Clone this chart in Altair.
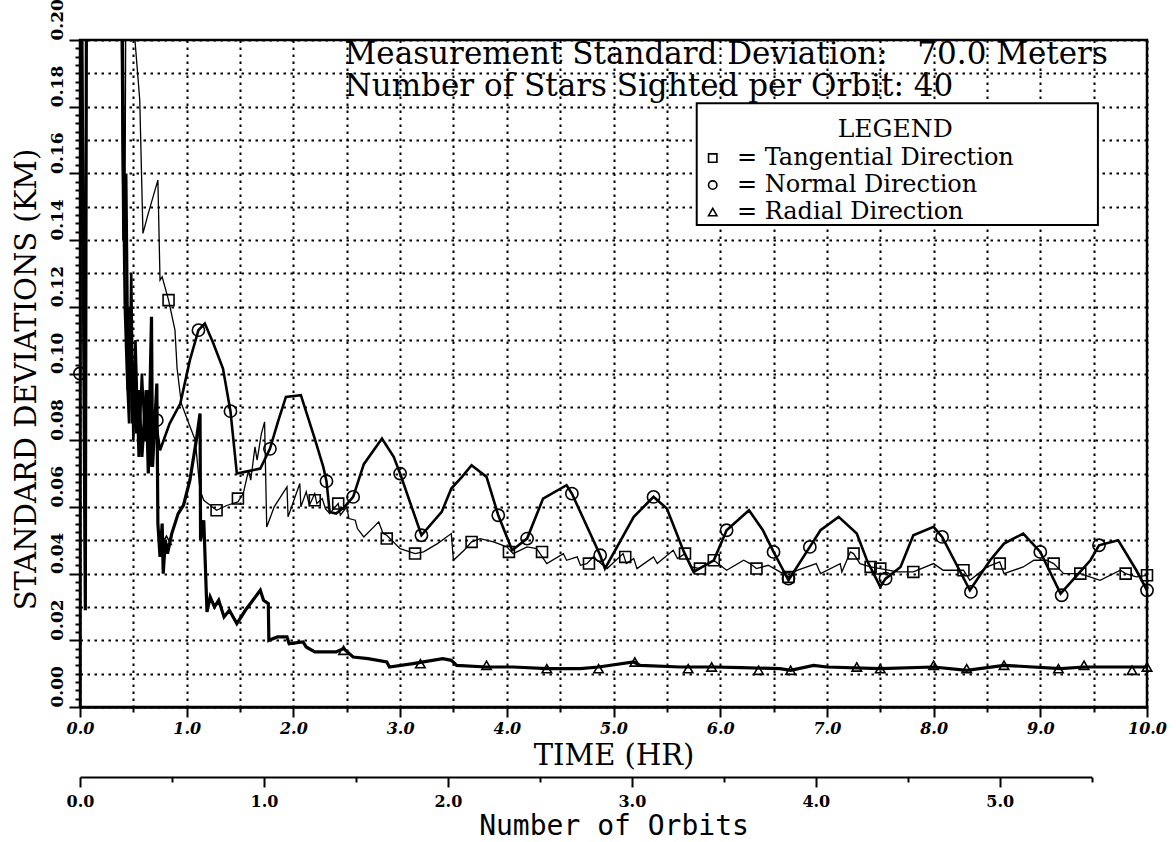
import altair as alt
import pandas as pd

# Position-error standard deviations (km) versus time since epoch (hr)
T_MAX = 10.0
V_MAX = 0.20
ORBIT_PERIOD_HR = 1.724
ORBIT_AXIS_END = 5.5
W, H = 1067, 667
SERIF = "DejaVu Serif"

tangential = [
    (0.00, 0.30), (0.045, 0.032), (0.06, 0.30), (0.39, 0.30), (0.42, 0.133), (0.44, 0.30),
    (0.50, 0.30), (0.515, 0.20), (0.56, 0.182), (0.59, 0.142), (0.64, 0.148), (0.73, 0.158),
    (0.75, 0.128), (0.77, 0.129), (0.83, 0.122), (0.89, 0.113), (0.91, 0.1015), (0.95, 0.091),
    (1.02, 0.085), (1.08, 0.080), (1.125, 0.065), (1.16, 0.062), (1.22, 0.0605), (1.28, 0.059),
    (1.38, 0.0605), (1.48, 0.0615), (1.53, 0.064), (1.58, 0.071), (1.60, 0.068), (1.64, 0.078),
    (1.66, 0.074), (1.70, 0.082), (1.73, 0.0855), (1.75, 0.054), (1.82, 0.060), (1.94, 0.066),
    (1.95, 0.057), (2.06, 0.067), (2.07, 0.060), (2.12, 0.0645), (2.15, 0.0605), (2.20, 0.064),
    (2.22, 0.061), (2.27, 0.0625), (2.30, 0.0595), (2.34, 0.058), (2.42, 0.061), (2.44, 0.0575),
    (2.50, 0.060), (2.52, 0.0565), (2.58, 0.056), (2.60, 0.0535), (2.66, 0.051), (2.80, 0.0555),
    (2.84, 0.052), (2.875, 0.0515), (3.00, 0.0475), (3.14, 0.046), (3.22, 0.0465), (3.35, 0.049),
    (3.48, 0.052), (3.50, 0.044), (3.60, 0.047), (3.67, 0.0495), (3.75, 0.0505), (3.875, 0.0495),
    (4.00, 0.048), (4.06, 0.046), (4.19, 0.048), (4.28, 0.0475), (4.375, 0.043), (4.53, 0.046),
    (4.56, 0.044), (4.66, 0.045), (4.69, 0.0425), (4.75, 0.043), (4.81, 0.045), (4.94, 0.0415),
    (5.09, 0.046), (5.12, 0.043), (5.19, 0.0445), (5.22, 0.0415), (5.375, 0.045), (5.41, 0.043),
    (5.56, 0.047), (5.60, 0.0445), (5.67, 0.046), (5.73, 0.042), (5.81, 0.0415), (5.94, 0.044),
    (6.00, 0.0425), (6.06, 0.041), (6.22, 0.044), (6.28, 0.043), (6.34, 0.0415), (6.45, 0.0425),
    (6.56, 0.0405), (6.64, 0.039), (6.72, 0.041), (6.90, 0.043), (6.94, 0.040), (7.125, 0.043),
    (7.14, 0.0405), (7.22, 0.0465), (7.25, 0.046), (7.31, 0.043), (7.41, 0.042), (7.50, 0.0415),
    (7.66, 0.0405), (7.81, 0.0405), (8.00, 0.043), (8.09, 0.041), (8.28, 0.041), (8.34, 0.038),
    (8.50, 0.042), (8.62, 0.0435), (8.66, 0.040), (8.84, 0.042), (8.94, 0.044), (9.06, 0.044),
    (9.125, 0.043), (9.22, 0.040), (9.375, 0.040), (9.56, 0.038), (9.75, 0.041), (9.80, 0.040),
    (9.90, 0.039), (10.0, 0.0395),
]

normal = [
    (0.00, 0.100), (0.02, 0.30), (0.38, 0.30), (0.40, 0.17), (0.42, 0.12), (0.44, 0.10),
    (0.46, 0.085), (0.48, 0.13), (0.50, 0.08), (0.52, 0.11), (0.55, 0.075), (0.58, 0.10),
    (0.61, 0.08), (0.64, 0.095), (0.67, 0.072), (0.70, 0.088), (0.75, 0.077), (0.84, 0.085),
    (0.94, 0.091), (1.03, 0.104), (1.11, 0.113), (1.17, 0.115), (1.25, 0.109), (1.34, 0.1015),
    (1.41, 0.0887), (1.47, 0.070), (1.59, 0.0708), (1.69, 0.0715), (1.78, 0.0774), (1.86, 0.086),
    (1.93, 0.093), (2.07, 0.0935), (2.20, 0.0805), (2.28, 0.072), (2.31, 0.0677), (2.34, 0.0585),
    (2.40, 0.058), (2.48, 0.060), (2.56, 0.063), (2.66, 0.0728), (2.83, 0.0805), (2.94, 0.075),
    (3.00, 0.070), (3.20, 0.0515), (3.39, 0.0585), (3.48, 0.0655), (3.58, 0.069), (3.67, 0.0725),
    (3.81, 0.069), (3.92, 0.0575), (4.05, 0.047), (4.19, 0.0505), (4.34, 0.0625), (4.56, 0.0665),
    (4.61, 0.064), (4.875, 0.0455), (4.92, 0.0415), (5.19, 0.057), (5.375, 0.063), (5.50, 0.0595),
    (5.66, 0.0465), (5.75, 0.0405), (5.94, 0.044), (6.06, 0.053), (6.27, 0.059), (6.40, 0.053),
    (6.50, 0.0465), (6.64, 0.038), (6.84, 0.048), (6.94, 0.053), (7.11, 0.057), (7.28, 0.052),
    (7.375, 0.044), (7.50, 0.036), (7.55, 0.0385), (7.69, 0.042), (7.81, 0.0515), (8.00, 0.054),
    (8.08, 0.051), (8.34, 0.035), (8.53, 0.044), (8.66, 0.049), (8.84, 0.052), (9.00, 0.0465),
    (9.19, 0.034), (9.47, 0.044), (9.55, 0.0485), (9.73, 0.050), (9.90, 0.041), (10.0, 0.035),
]

radial = [
    (0.00, 0.30), (0.05, 0.029), (0.065, 0.30), (0.37, 0.30), (0.41, 0.14), (0.43, 0.16),
    (0.45, 0.095), (0.47, 0.12), (0.49, 0.085), (0.51, 0.10), (0.53, 0.082), (0.55, 0.095),
    (0.58, 0.075), (0.62, 0.095), (0.64, 0.070), (0.67, 0.117), (0.68, 0.072), (0.72, 0.097),
    (0.73, 0.055), (0.75, 0.045), (0.77, 0.055), (0.78, 0.040), (0.80, 0.050), (0.82, 0.046),
    (0.86, 0.052), (0.92, 0.058), (0.97, 0.0605), (1.03, 0.068), (1.09, 0.080), (1.125, 0.088),
    (1.13, 0.050), (1.16, 0.056), (1.19, 0.0285), (1.22, 0.033), (1.26, 0.030), (1.30, 0.032),
    (1.35, 0.027), (1.40, 0.029), (1.47, 0.025), (1.55, 0.029), (1.62, 0.032), (1.69, 0.035),
    (1.72, 0.032), (1.765, 0.031), (1.77, 0.020), (1.85, 0.021), (1.94, 0.021), (1.96, 0.019),
    (2.09, 0.0195), (2.12, 0.018), (2.20, 0.0165), (2.40, 0.0165), (2.47, 0.0175), (2.56, 0.015),
    (2.70, 0.0145), (2.875, 0.0135), (2.90, 0.012), (3.12, 0.013), (3.40, 0.0145), (3.48, 0.014),
    (3.53, 0.0125), (3.81, 0.012), (4.06, 0.012), (4.375, 0.0115), (4.69, 0.0115), (4.86, 0.012),
    (5.19, 0.0135), (5.25, 0.0125), (5.625, 0.012), (5.94, 0.012), (6.20, 0.0118), (6.56, 0.0115),
    (6.66, 0.011), (6.875, 0.0125), (7.00, 0.012), (7.50, 0.0115), (8.00, 0.012), (8.31, 0.011),
    (8.66, 0.0125), (9.19, 0.0115), (9.41, 0.012), (9.84, 0.012), (10.0, 0.012),
]

tangential_marks = [
    (0.83, 0.122), (1.28, 0.059), (1.48, 0.0625), (2.20, 0.062), (2.42, 0.061), (2.875, 0.0505),
    (3.14, 0.046), (3.67, 0.0495), (4.02, 0.0465), (4.33, 0.0465), (4.77, 0.043), (5.11, 0.045),
    (5.67, 0.046), (5.81, 0.0415), (5.94, 0.044), (6.34, 0.0415), (6.64, 0.039), (7.25, 0.046),
    (7.41, 0.042), (7.50, 0.0415), (7.81, 0.0405), (8.28, 0.041), (8.62, 0.043), (9.125, 0.043),
    (9.375, 0.040), (9.80, 0.040), (10.0, 0.0395),
]
normal_marks = [
    (0.00, 0.100), (0.72, 0.086), (1.11, 0.113), (1.41, 0.0887), (1.78, 0.0774), (2.31, 0.0677),
    (2.56, 0.063), (3.00, 0.070), (3.20, 0.0515), (3.92, 0.0575), (4.19, 0.0505), (4.61, 0.064),
    (4.875, 0.0455), (5.375, 0.063), (6.06, 0.053), (6.50, 0.0465), (6.64, 0.0385), (6.84, 0.048),
    (7.55, 0.0385), (8.08, 0.051), (8.35, 0.0345), (9.00, 0.0465), (9.20, 0.0335), (9.55, 0.0485),
    (10.0, 0.035),
]
radial_marks = [
    (0.81, 0.050), (2.47, 0.017), (3.19, 0.013), (3.81, 0.0125), (4.375, 0.0115), (4.86, 0.0115),
    (5.20, 0.0135), (5.70, 0.0115), (5.92, 0.012), (6.36, 0.011), (6.66, 0.011), (7.28, 0.012),
    (7.50, 0.0115), (8.00, 0.0125), (8.31, 0.0115), (8.66, 0.0125), (9.17, 0.0115), (9.41, 0.0125),
    (9.86, 0.011), (10.0, 0.012),
]

# Annotation block (positions in data units: hours, km)
header_text = ["Measurement Standard Deviation:\u00a0\u00a0 70.0 Meters",
               "Number of Stars Sighted per Orbit: 40"]
header_t = [2.48, 2.48]
header_v = [0.1955, 0.1858]

legend_box = {"t1": [5.78], "t2": [9.54], "v1": [0.1445], "v2": [0.181]}
legend_title = ("LEGEND", 7.64, 0.1732)
legend_labels = ["= Tangential Direction", "= Normal Direction", "= Radial Direction"]
legend_shapes = ["square", "circle", "triangle-up"]
legend_row_v = [0.1646, 0.1565, 0.1484]
legend_symbol_t = 5.93
legend_label_t = 6.157

TIME_TICKS = [i * 0.5 for i in range(21)]
DEV_TICKS = [round(i * 0.0025, 4) for i in range(81)]
ORBIT_TICKS = [i * 0.5 for i in range(12)]

is_major_dev = "abs(datum.value * 50 - round(datum.value * 50)) < 0.001"
on_dev_grid = "abs(datum.value * 100 - round(datum.value * 100)) < 0.001"

time_axis = alt.Axis(
    values=TIME_TICKS,
    labelExpr="datum.value % 1 == 0 ? format(datum.value, '.1f') : ''",
    tickSize={"condition": {"test": "datum.value % 1 != 0", "value": 5}, "value": 10},
    tickColor="black", tickWidth=2, domainColor="black", domainWidth=2.5,
    grid=True, gridColor="black", gridDash=[2.5, 4.5], gridWidth=2,
    labelFont=SERIF, labelFontSize=16, labelFontWeight="bold", labelFontStyle="italic",
    labelColor="black", labelPadding=3, labelOverlap=False, labelFlush=False,
    title="TIME (HR)", titleFont=SERIF, titleFontSize=29, titleFontWeight="normal",
    titleColor="black", titlePadding=5,
)
dev_axis = alt.Axis(
    values=DEV_TICKS,
    labelExpr=f"{is_major_dev} ? format(datum.value, '.2f') : ''",
    tickSize={"condition": {"test": is_major_dev, "value": 11}, "value": 5},
    tickColor="black", tickWidth=2, domainColor="black", domainWidth=2.5,
    grid=True, gridColor="black", gridDash=[2.5, 4.5], gridWidth=2,
    gridOpacity={"condition": {"test": on_dev_grid, "value": 1}, "value": 0},
    labelFont=SERIF, labelFontSize=17, labelFontWeight="bold", labelColor="black",
    labelAngle=270, labelAlign="left", labelBaseline="middle", labelPadding=12,
    labelOverlap=False,
    title="STANDARD DEVIATIONS (KM)", titleFont=SERIF, titleFontSize=29,
    titleFontWeight="normal", titleColor="black", titlePadding=7, titleY=339,
)
orbit_axis = alt.Axis(
    orient="bottom", offset=70, values=ORBIT_TICKS,
    labelExpr="datum.value % 1 == 0 ? format(datum.value, '.1f') : ''",
    tickSize={"condition": {"test": "datum.value % 1 != 0", "value": 5}, "value": 10},
    tickColor="black", tickWidth=2, domainColor="black", domainWidth=2, grid=False,
    labelFont=SERIF, labelFontSize=16, labelFontWeight="bold", labelColor="black",
    labelPadding=6, labelOverlap=False, labelFlush=False,
    title="Number of Orbits", titleFont="DejaVu Sans Mono", titleFontSize=28,
    titleFontWeight="normal", titleColor="black", titlePadding=3, titleX=W / 2,
)

time_scale = alt.Scale(domain=[0, T_MAX], nice=False, zero=False)
dev_scale = alt.Scale(domain=[0, V_MAX], nice=False, zero=False)
x_time = alt.X("t:Q", scale=time_scale, axis=time_axis)
y_dev = alt.Y("v:Q", scale=dev_scale, axis=dev_axis)


def frame(pairs):
    df = pd.DataFrame(pairs, columns=["t", "v"])
    df["i"] = range(len(df))
    return df


def line_layer(pairs, width):
    return alt.Chart(frame(pairs)).mark_line(
        color="black", strokeWidth=width, clip=True
    ).encode(x=x_time, y=y_dev, order="i:Q")


def marker_layer(pairs, shape, size):
    return alt.Chart(frame(pairs)).mark_point(
        shape=shape, size=size, filled=False, color="black", strokeWidth=1.6, opacity=1
    ).encode(x=x_time, y=y_dev)


header = alt.Chart(pd.DataFrame({"t": header_t, "v": header_v, "text": header_text})).mark_text(
    align="left", baseline="middle", font=SERIF, fontSize=31, color="black"
).encode(x=x_time, y=y_dev, text="text:N")

box = alt.Chart(pd.DataFrame(legend_box)).mark_rect(
    fill="white", stroke="black", strokeWidth=2
).encode(x=alt.X("t1:Q", scale=time_scale, axis=time_axis), x2="t2:Q",
         y=alt.Y("v1:Q", scale=dev_scale, axis=dev_axis), y2="v2:Q")

title_df = pd.DataFrame({"t": [legend_title[1]], "v": [legend_title[2]], "text": [legend_title[0]]})
legend_head = alt.Chart(title_df).mark_text(
    align="center", baseline="middle", font=SERIF, fontSize=25, color="black"
).encode(x=x_time, y=y_dev, text="text:N")

label_df = pd.DataFrame({"t": [legend_label_t] * 3, "v": legend_row_v, "text": legend_labels})
legend_text = alt.Chart(label_df).mark_text(
    align="left", baseline="middle", font=SERIF, fontSize=24, color="black"
).encode(x=x_time, y=y_dev, text="text:N")

legend_syms = [
    marker_layer([(legend_symbol_t, v)], shape, 70)
    for v, shape in zip(legend_row_v, legend_shapes)
]

main = alt.layer(
    line_layer(tangential, 1.3),
    line_layer(normal, 2.6),
    line_layer(radial, 3.2),
    marker_layer(tangential_marks, "square", 120),
    marker_layer(normal_marks, "circle", 150),
    marker_layer(radial_marks, "triangle-up", 90),
    header,
    box,
    legend_head,
    legend_text,
    *legend_syms,
)

orbit_layer = alt.Chart(pd.DataFrame({"orbit": [0.0, ORBIT_AXIS_END]})).mark_point(opacity=0).encode(
    x=alt.X(
        "orbit:Q",
        scale=alt.Scale(domain=[0, ORBIT_AXIS_END],
                        range=[0, W * ORBIT_AXIS_END * ORBIT_PERIOD_HR / T_MAX],
                        nice=False, zero=False),
        axis=orbit_axis,
    )
)

chart = alt.layer(main, orbit_layer).resolve_scale(x="independent").properties(
    width=W, height=H,
    autosize=alt.AutoSizeParams(type="none"),
    padding={"left": 80, "top": 40, "right": 29, "bottom": 135},
    background="white",
).configure_view(stroke="black", strokeWidth=2.5)

chart.save("out.html", embed_options={"renderer": "svg", "actions": False})
